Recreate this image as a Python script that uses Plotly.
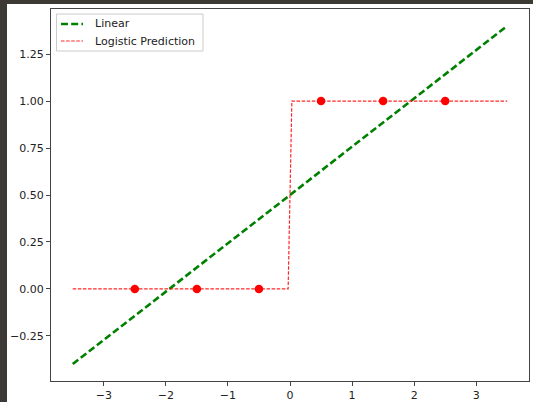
import plotly.graph_objects as go

# Data
linear_x = [-3.5, 3.5]
linear_y = [-0.4, 1.4]
logistic_x = [-3.5, -0.03, 0.03, 3.5]
logistic_y = [0.0, 0.0, 1.0, 1.0]
points_x = [-2.5, -1.5, -0.5, 0.5, 1.5, 2.5]
points_y = [0, 0, 0, 1, 1, 1]
x_ticks = [-3, -2, -1, 0, 1, 2, 3]
y_ticks = [-0.25, 0.0, 0.25, 0.5, 0.75, 1.0, 1.25]
y_tick_labels = ["−0.25", "0.00", "0.25", "0.50", "0.75", "1.00", "1.25"]
legend_names = ["Linear", "Logistic Prediction"]

W, H = 533, 402
ML, MR, MT, MB = 51, 4, 9, 21
PW, PH = W - ML - MR, H - MT - MB


def px(X):
    return (X - ML) / PW


def py(Y):
    return (H - MB - Y) / PH


green_line = dict(color="green", width=2.6, dash="7px,3.2px")
red_line = dict(color="rgba(255,0,0,0.85)", width=1.2, dash="3.5px,1.6px")

fig = go.Figure()
fig.add_trace(go.Scatter(x=linear_x, y=linear_y, mode="lines", name=legend_names[0],
                         line=green_line, showlegend=False))
fig.add_trace(go.Scatter(x=logistic_x, y=logistic_y, mode="lines", name=legend_names[1],
                         line=red_line, showlegend=False))
fig.add_trace(go.Scatter(x=points_x, y=points_y, mode="markers", showlegend=False,
                         marker=dict(color="red", size=8.5)))

axis_common = dict(showline=True, linecolor="#444444", linewidth=1, mirror=True,
                   ticks="outside", ticklen=4, tickcolor="#444444", tickwidth=1,
                   showgrid=False, zeroline=False, automargin=False,
                   tickfont=dict(family="DejaVu Sans", size=11, color="#222222"))

shapes = [
    dict(type="rect", xref="paper", yref="paper", x0=px(7), x1=px(540), y0=py(410), y1=py(4),
         fillcolor="white", line=dict(width=0), layer="below"),
    # legend frame
    dict(type="rect", xref="paper", yref="paper", x0=px(56.5), x1=px(203), y0=py(51), y1=py(14),
         fillcolor="rgba(255,255,255,0.8)", line=dict(color="#cccccc", width=1), layer="above"),
    dict(type="line", xref="paper", yref="paper", x0=px(61), x1=px(83), y0=py(24), y1=py(24),
         line=green_line, layer="above"),
    dict(type="line", xref="paper", yref="paper", x0=px(61), x1=px(83), y0=py(41), y1=py(41),
         line=red_line, layer="above"),
]

annotations = [
    dict(x=px(93), y=py(24), xref="paper", yref="paper", text=legend_names[0], showarrow=False,
         xanchor="left", yanchor="middle", font=dict(family="DejaVu Sans", size=11, color="#222222")),
    dict(x=px(93), y=py(41), xref="paper", yref="paper", text=legend_names[1], showarrow=False,
         xanchor="left", yanchor="middle", font=dict(family="DejaVu Sans", size=11, color="#222222")),
]

fig.update_layout(
    width=W, height=H,
    margin=dict(l=ML, r=MR, t=MT, b=MB, autoexpand=False),
    paper_bgcolor="#3d3a36",
    plot_bgcolor="white",
    showlegend=False,
    xaxis=dict(range=[-3.85, 3.85], tickvals=x_ticks, **axis_common),
    yaxis=dict(range=[-0.49, 1.49], tickvals=y_ticks, ticktext=y_tick_labels, **axis_common),
    shapes=shapes,
    annotations=annotations,
)

fig.write_html("out.html")
